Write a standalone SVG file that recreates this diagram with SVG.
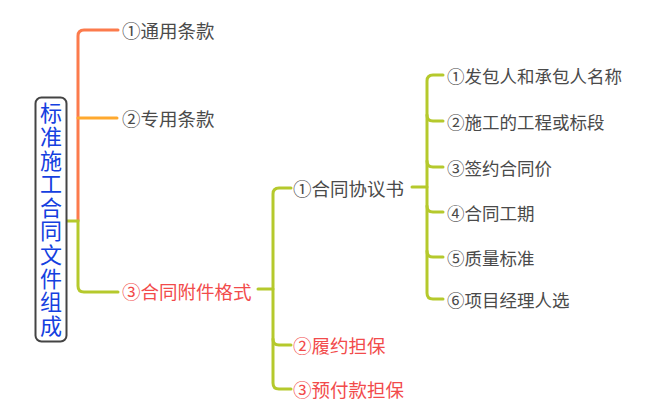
<svg xmlns="http://www.w3.org/2000/svg" width="662" height="413" viewBox="0 0 662 413">
<style>
.t{font-family:"Noto Sans CJK SC","Noto Sans",sans-serif;font-size:18.5px;fill:#4a4a4a;dominant-baseline:central}
.s{font-size:17.5px}
.r{fill:#f24b4b}
.root{font-family:"Noto Sans CJK SC","Noto Sans",sans-serif;font-size:22px;fill:#1540e0;writing-mode:vertical-rl;letter-spacing:1.6px}
.c{fill:none;stroke-width:3;stroke-linecap:round}
.o1{stroke:#fc7b4c}
.o2{stroke:#ffa92e}
.g{stroke:#b5c92c}
</style>
<rect width="662" height="413" fill="#ffffff"/>
<g id="connectors">
<path class="c o1" d="M78,221 V36 Q78,30 84,30 H118"/>
<path class="c o2" d="M78,118 H117"/>
<path class="c g" d="M67,221 H78 V286 Q78,292 84,292 H118"/>
<path class="c g" d="M258,289 H273"/>
<path class="c g" d="M291,188 H279 Q273,188 273,194 V383 Q273,389 279,389 H291"/>
<path class="c g" d="M273,339 Q273,345 279,345 H291"/>
<path class="c g" d="M412,187 H427"/>
<path class="c g" d="M443,75 H433 Q427,75 427,81 V293 Q427,299 433,299 H443"/>
<path class="c g" d="M443,121 H433 Q427,121 427,115"/>
<path class="c g" d="M443,167 H433 Q427,167 427,161"/>
<path class="c g" d="M443,212 H433 Q427,212 427,206"/>
<path class="c g" d="M443,257 H433 Q427,257 427,251"/>
</g>
<g id="root">
<rect x="35.5" y="97.5" width="31" height="244" rx="6" fill="#ffffff" stroke="#444444" stroke-width="2"/>
<text class="root" x="51" y="102">标准施工合同文件组成</text>
</g>
<g id="n1"><text class="t" x="122" y="30">①通用条款</text></g>
<g id="n2"><text class="t" x="122" y="118">②专用条款</text></g>
<g id="n3"><text class="t r" x="122" y="291">③合同附件格式</text></g>
<g id="n31"><text class="t" x="293" y="188">①合同协议书</text></g>
<g id="n32"><text class="t r" x="293" y="345">②履约担保</text></g>
<g id="n33"><text class="t r" x="293" y="389">③预付款担保</text></g>
<g id="n311"><text class="t s" x="447" y="75">①发包人和承包人名称</text></g>
<g id="n312"><text class="t s" x="447" y="121">②施工的工程或标段</text></g>
<g id="n313"><text class="t s" x="447" y="167">③签约合同价</text></g>
<g id="n314"><text class="t s" x="447" y="212">④合同工期</text></g>
<g id="n315"><text class="t s" x="447" y="257">⑤质量标准</text></g>
<g id="n316"><text class="t s" x="447" y="299">⑥项目经理人选</text></g>
</svg>
